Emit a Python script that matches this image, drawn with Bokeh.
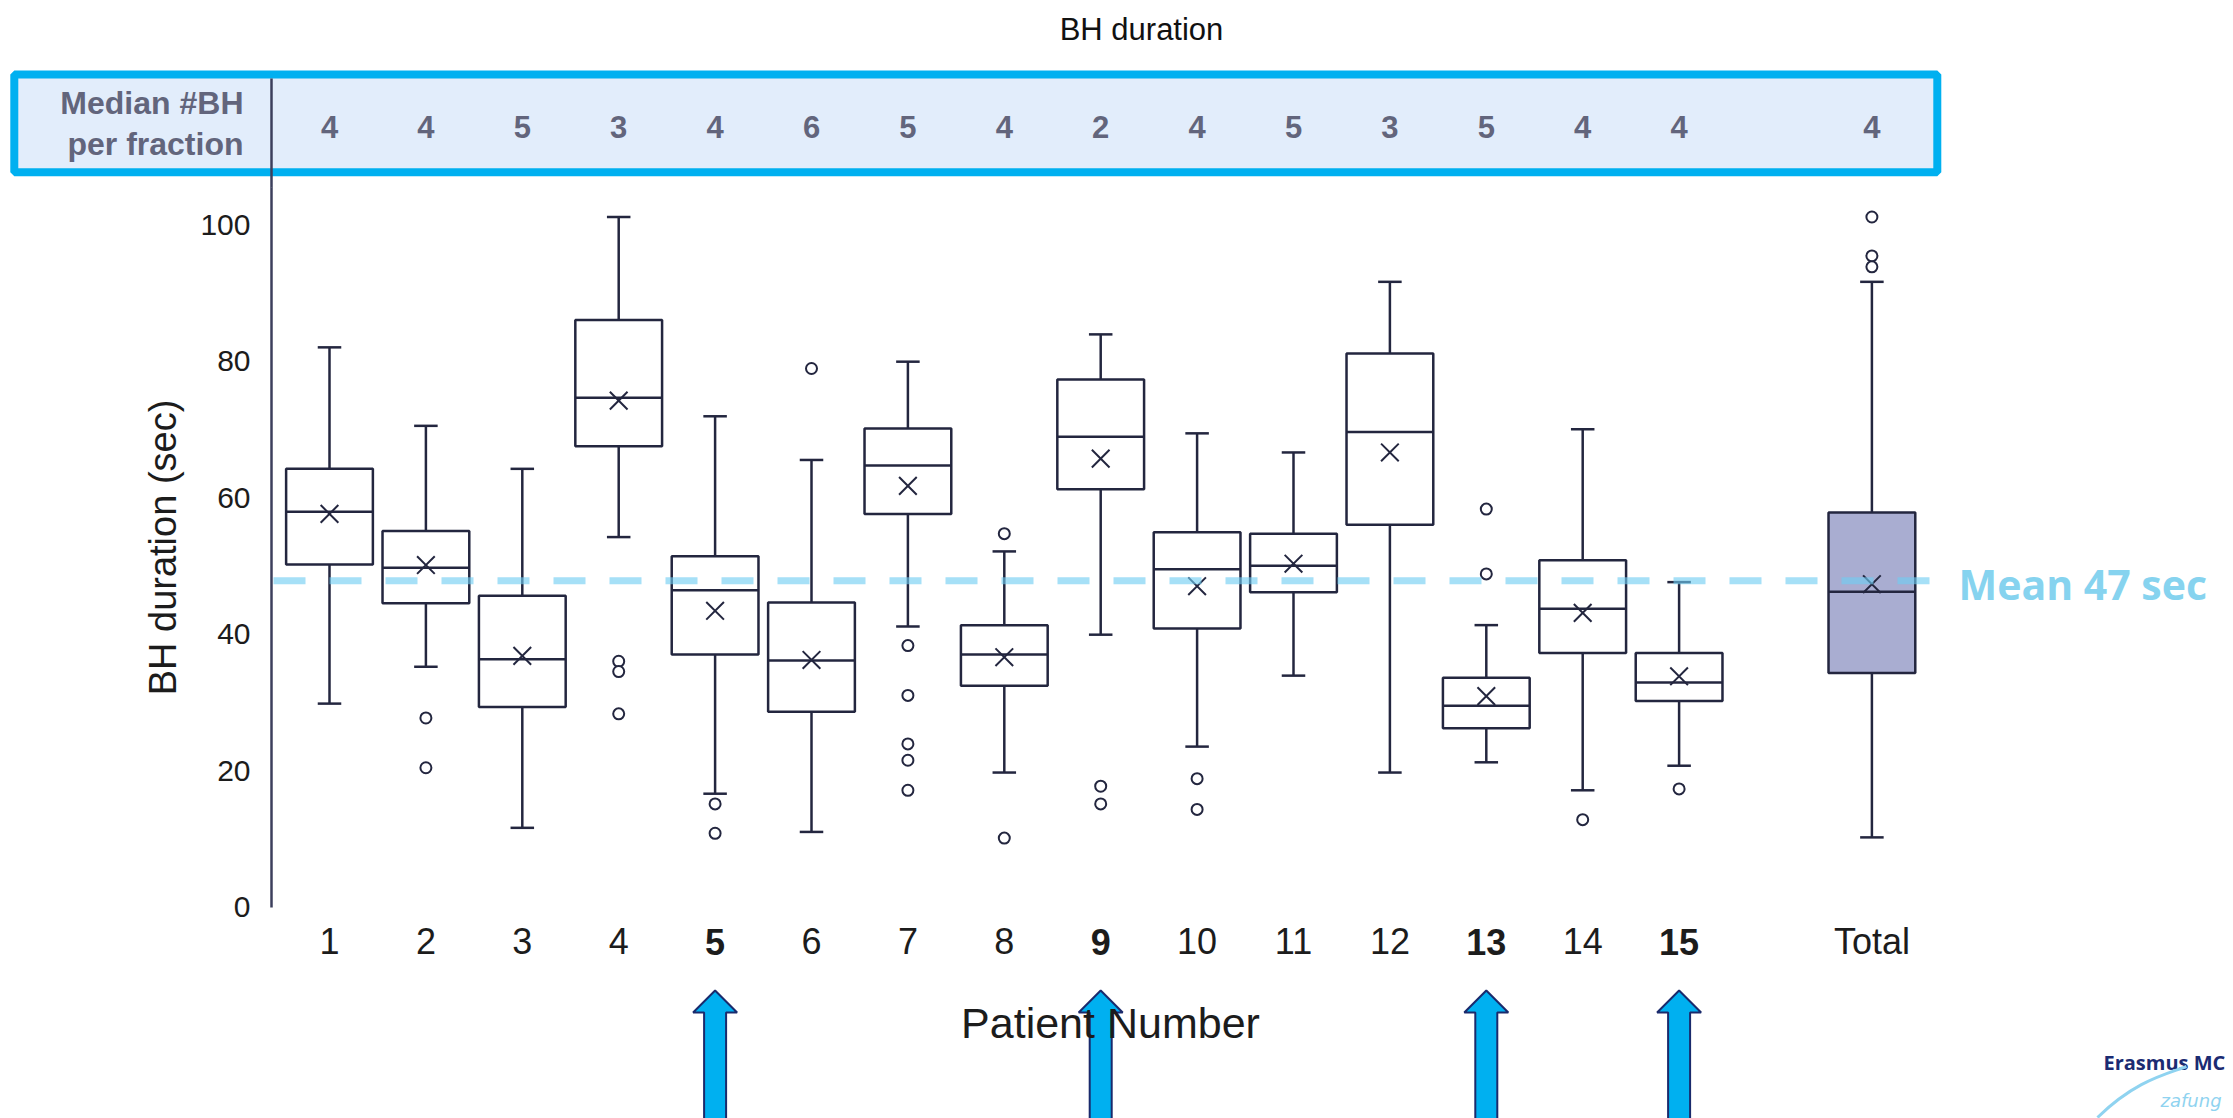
from bokeh.plotting import figure
from bokeh.models import Range1d, LinearAxis, FixedTicker, ColumnDataSource
from bokeh.core.properties import value
from bokeh.embed import file_html
from bokeh.resources import INLINE

# ---------------- data ----------------
patients = ["1", "2", "3", "4", "5", "6", "7", "8", "9", "10", "11", "12", "13", "14", "15", "Total"]
positions = [1, 2, 3, 4, 5, 6, 7, 8, 9, 10, 11, 12, 13, 14, 15, 17]
whisker_low = [29.8, 35.2, 11.6, 54.2, 16.6, 11.0, 41.1, 19.7, 39.9, 23.5, 33.9, 19.7, 21.2, 17.1, 20.7, 10.2]
q1 = [50.2, 44.5, 29.3, 67.5, 37.0, 28.6, 57.6, 32.4, 61.2, 40.8, 46.1, 56.0, 26.2, 37.2, 30.2, 34.3]
median = [57.9, 49.7, 36.3, 74.6, 46.4, 36.1, 64.7, 37.0, 68.9, 49.5, 50.0, 69.6, 29.5, 43.7, 32.9, 46.2]
q3 = [64.2, 55.1, 45.6, 86.0, 51.4, 44.6, 70.1, 41.3, 77.3, 54.9, 54.7, 81.1, 33.6, 50.8, 37.2, 57.8]
whisker_high = [82.0, 70.5, 64.2, 101.1, 71.9, 65.5, 79.9, 52.1, 83.9, 69.4, 66.6, 91.6, 41.3, 70.0, 47.6, 91.6]
mean = [57.6, 50.1, 36.8, 74.2, 43.4, 36.2, 61.7, 36.6, 65.7, 47.0, 50.3, 66.6, 30.9, 43.1, 33.8, 47.3]
median_bh_per_fraction = [4, 4, 5, 3, 4, 6, 5, 4, 2, 4, 5, 3, 5, 4, 4, 4]

outlier_pos = [2, 2, 4, 4, 4, 5, 5, 6, 7, 7, 7, 7, 7, 8, 8, 9, 9, 10, 10, 13, 13, 14, 15, 17, 17, 17]
outlier_val = [27.7, 20.4, 36.0, 34.5, 28.3, 15.1, 10.8, 78.9, 38.3, 31.0, 23.9, 21.5, 17.1,
               54.7, 10.1, 17.7, 15.1, 18.8, 14.3, 58.3, 48.8, 12.8, 17.3, 101.1, 95.4, 93.8]

highlighted = [5, 9, 13, 15]
overall_mean = 47.8
y_ticks = [0, 20, 40, 60, 80, 100]

# ---------------- geometry helpers (image px -> data) ----------------
W, H = 2233, 1118
PX_PER_X = 96.4
PX_PER_Y = 6.825
X1_PX = 329.0      # image px of patient 1
Y0_PX = 906.5      # image px of value 0


def fx(px):
    return 1 + (px - X1_PX) / PX_PER_X


def fy(py):
    return (Y0_PX - py) / PX_PER_Y


p = figure(width=W, height=H, output_backend="svg", toolbar_location=None,
           x_range=Range1d(fx(0), fx(W)), y_range=Range1d(fy(H), fy(0)),
           x_axis_location=None, y_axis_location=None, min_border=0,
           outline_line_color=None, background_fill_color="white",
           border_fill_color="white")
p.xgrid.visible = False
p.ygrid.visible = False

INK = "#23263f"
LABEL = "#1c1c1c"
HEAD_GRAY = "#62657c"
AXIS_COL = "#3c3f5c"
Y_AXIS_TOP = 105.4          # y-axis bounds chosen so its label is centred like the reference

# ---------------- header table ----------------
p.quad(left=fx(13.8), right=fx(1936.8), top=fy(73.9), bottom=fy(171.8),
       fill_color="#e2edfb", line_color="#00b0f0", line_width=8)
p.text(x=[fx(243)], y=[fy(102)], text=["Median #BH"], text_align="right",
       text_baseline="middle", text_font=value("Liberation Sans"), text_font_style="bold",
       text_font_size="32px", text_color=HEAD_GRAY)
p.text(x=[fx(243)], y=[fy(143)], text=["per fraction"], text_align="right",
       text_baseline="middle", text_font=value("Liberation Sans"), text_font_style="bold",
       text_font_size="32px", text_color=HEAD_GRAY)
p.text(x=positions, y=[fy(126)] * len(positions), text=[str(v) for v in median_bh_per_fraction],
       text_align="center", text_baseline="middle", text_font=value("Liberation Sans"),
       text_font_style="bold", text_font_size="31px", text_color=HEAD_GRAY)
# upper part of the vertical rule (through the header)
p.segment(x0=[fx(271)], y0=[Y_AXIS_TOP], x1=[fx(271)], y1=[fy(78)],
          line_color=AXIS_COL, line_width=2.5)

# title
p.text(x=[fx(1141)], y=[fy(29)], text=["BH duration"], text_align="center",
       text_baseline="middle", text_font=value("Liberation Sans"),
       text_font_size="31px", text_color="#111111")

# ---------------- box plots ----------------
HALF = 0.45
CAP = 0.122
fills = ["white"] * (len(positions) - 1) + ["#a9add1"]
src = ColumnDataSource(dict(
    x=positions, lo=whisker_low, q1=q1, med=median, q3=q3, hi=whisker_high, mean=mean,
    left=[v - HALF for v in positions], right=[v + HALF for v in positions],
    capl=[v - CAP for v in positions], capr=[v + CAP for v in positions], fill=fills))

p.segment(x0="x", y0="lo", x1="x", y1="q1", source=src, line_color=INK, line_width=2.5)
p.segment(x0="x", y0="q3", x1="x", y1="hi", source=src, line_color=INK, line_width=2.5)
p.segment(x0="capl", y0="lo", x1="capr", y1="lo", source=src, line_color=INK, line_width=2.5)
p.segment(x0="capl", y0="hi", x1="capr", y1="hi", source=src, line_color=INK, line_width=2.5)
p.quad(left="left", right="right", bottom="q1", top="q3", source=src,
       fill_color="fill", line_color=INK, line_width=2.5)
p.segment(x0="left", y0="med", x1="right", y1="med", source=src, line_color=INK, line_width=2.5)
p.scatter(x="x", y="mean", source=src, marker="x", size=25, line_color=INK, line_width=2)

p.scatter(x=outlier_pos, y=outlier_val, marker="circle", size=11, fill_color="white",
          line_color=INK, line_width=2)

# ---------------- mean line ----------------
p.segment(x0=[fx(273)], y0=[overall_mean], x1=[fx(1930)], y1=[overall_mean],
          line_color="#6fcdf2", line_alpha=0.62, line_width=7, line_dash="32 24")
p.text(x=[fx(1958)], y=[fy(583)], text=["Mean 47 sec"], text_align="left",
       text_baseline="middle", text_font=value("Open Sans"), text_font_style="bold",
       text_font_size="41px", text_color="#86d3ef")

# ---------------- arrows under highlighted patients ----------------
tip, base, bottom = 990, 1012, 1130
head_w, shaft_w = 22 / PX_PER_X, 11 / PX_PER_X
axs, ays = [], []
for h in highlighted:
    axs.append([h, h + head_w, h + shaft_w, h + shaft_w, h - shaft_w, h - shaft_w, h - head_w])
    ays.append([fy(tip), fy(base), fy(base), fy(bottom), fy(bottom), fy(base), fy(base)])
p.patches(xs=axs, ys=ays, fill_color="#00b0f0", line_color="#1a2a6c", line_width=2)

# ---------------- logo ----------------
p.text(x=[fx(2103)], y=[fy(1062)], text=["Erasmus MC"], text_align="left",
       text_baseline="middle", text_font=value("Open Sans"), text_font_style="bold",
       text_font_size="20px", text_color="#1b2b72")
p.bezier(x0=[fx(2097)], y0=[fy(1117)], x1=[fx(2186)], y1=[fy(1066)],
         cx0=[fx(2135)], cy0=[fy(1080)], cx1=[fx(2165)], cy1=[fy(1074)],
         line_color="#8fd3f0", line_width=3)
p.text(x=[fx(2160)], y=[fy(1100)], text=["zafung"], text_align="left",
       text_baseline="middle", text_font=value("DejaVu Sans"), text_font_style="italic",
       text_font_size="18px", text_color="#8fd3f0")

# ---------------- axes ----------------
y_axis = LinearAxis(fixed_location=fx(271), bounds=(0, Y_AXIS_TOP), ticker=FixedTicker(ticks=y_ticks),
                    axis_line_color=AXIS_COL, axis_line_width=2.5,
                    major_tick_in=0, major_tick_out=0, minor_tick_in=0, minor_tick_out=0,
                    major_label_standoff=21, major_label_text_font="Liberation Sans",
                    major_label_text_font_size="30px", major_label_text_color=LABEL,
                    axis_label="BH duration (sec)", axis_label_standoff=13,
                    axis_label_text_font="Liberation Sans", axis_label_text_font_size="38px",
                    axis_label_text_font_style="normal", axis_label_text_color=LABEL)
p.add_layout(y_axis, "left")

overrides = {pos: lab for pos, lab in zip(positions, patients)}
normal_ticks = [v for v in positions if v not in highlighted]
x_axis = LinearAxis(fixed_location=0, bounds=(1, 17.2), ticker=FixedTicker(ticks=normal_ticks),
                    major_label_overrides=overrides, axis_line_color=None,
                    major_tick_in=0, major_tick_out=0, minor_tick_in=0, minor_tick_out=0,
                    major_label_standoff=14, major_label_text_font="Liberation Sans",
                    major_label_text_font_size="36px", major_label_text_color=LABEL,
                    axis_label="Patient Number", axis_label_standoff=33,
                    axis_label_text_font="Liberation Sans", axis_label_text_font_size="43px",
                    axis_label_text_font_style="normal", axis_label_text_color=LABEL)
p.add_layout(x_axis, "below")
x_axis_bold = LinearAxis(fixed_location=0, bounds=(1, 17.2), ticker=FixedTicker(ticks=highlighted),
                         major_label_overrides=overrides, axis_line_color=None,
                         major_tick_in=0, major_tick_out=0, minor_tick_in=0, minor_tick_out=0,
                         major_label_standoff=22, major_label_text_font="Liberation Sans",
                         major_label_text_font_size="36px", major_label_text_font_style="bold",
                         major_label_text_color=LABEL)
p.add_layout(x_axis_bold, "below")

open("out.html", "w").write(file_html(p, INLINE))
